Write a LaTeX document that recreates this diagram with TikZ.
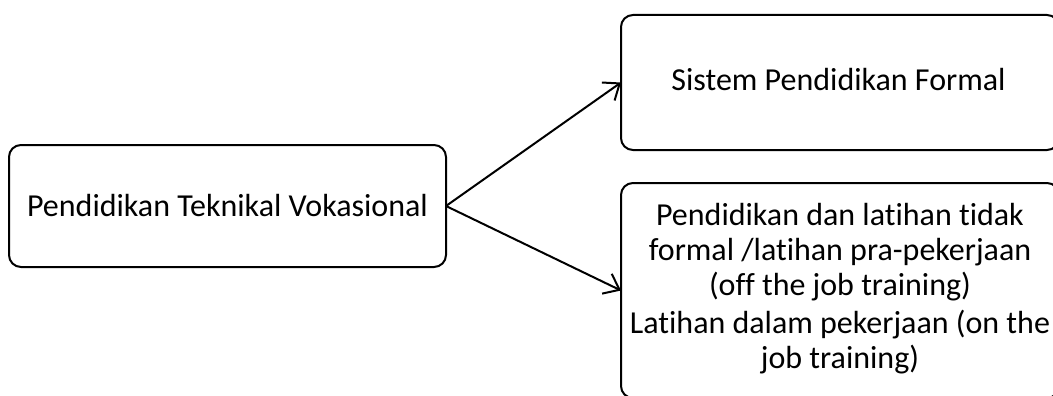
\documentclass[tikz,border=0pt]{standalone}
\usepackage{fontspec}
\setmainfont{Carlito}[RawFeature={-liga}]
\usetikzlibrary{arrows.meta}

\tikzset{
  box/.style={draw=black, line width=2pt, rounded corners=12pt, fill=white,
              inner sep=0pt, outer sep=0pt},
  label/.style={inner sep=0pt, align=center, anchor=base,
                font=\fontsize{32}{35}\selectfont},
  link/.style={line width=2pt, -{Straight Barb[length=14pt,width=22pt,line join=miter]}}
}

\begin{document}
\begin{tikzpicture}[x=1pt,y=-1pt]
  \useasboundingbox (0,0) rectangle (1053,396);
  \clip (0,0) rectangle (1053,396);

  % main category
  \node[box, minimum width=437pt, minimum height=122pt] (root) at (227.5,206) {};
  \node[label] (rootText) at (227.5,216) {Pendidikan Teknikal Vokasional};

  % formal branch
  \node[box, minimum width=438pt, minimum height=135pt] (formal) at (840,82.5) {};
  \node[label] (formalText) at (838.5,91) {Sistem Pendidikan Formal};

  % non-formal branch (baseline of each block's last line)
  \node[box, minimum width=438pt, minimum height=215pt] (nonformal) at (840,290.5) {};
  \node[label] (offText) at (840,295)
    {Pendidikan dan latihan tidak\\ formal /latihan pra-pekerjaan\\ (off the job training)};
  \node[label] (onText) at (840,368)
    {Latihan dalam pekerjaan (on the\\ job training)};

  % connectors
  \draw[link] (root.east) -- (formal.west);
  \draw[link] (root.east) -- (nonformal.west);
\end{tikzpicture}
\end{document}
